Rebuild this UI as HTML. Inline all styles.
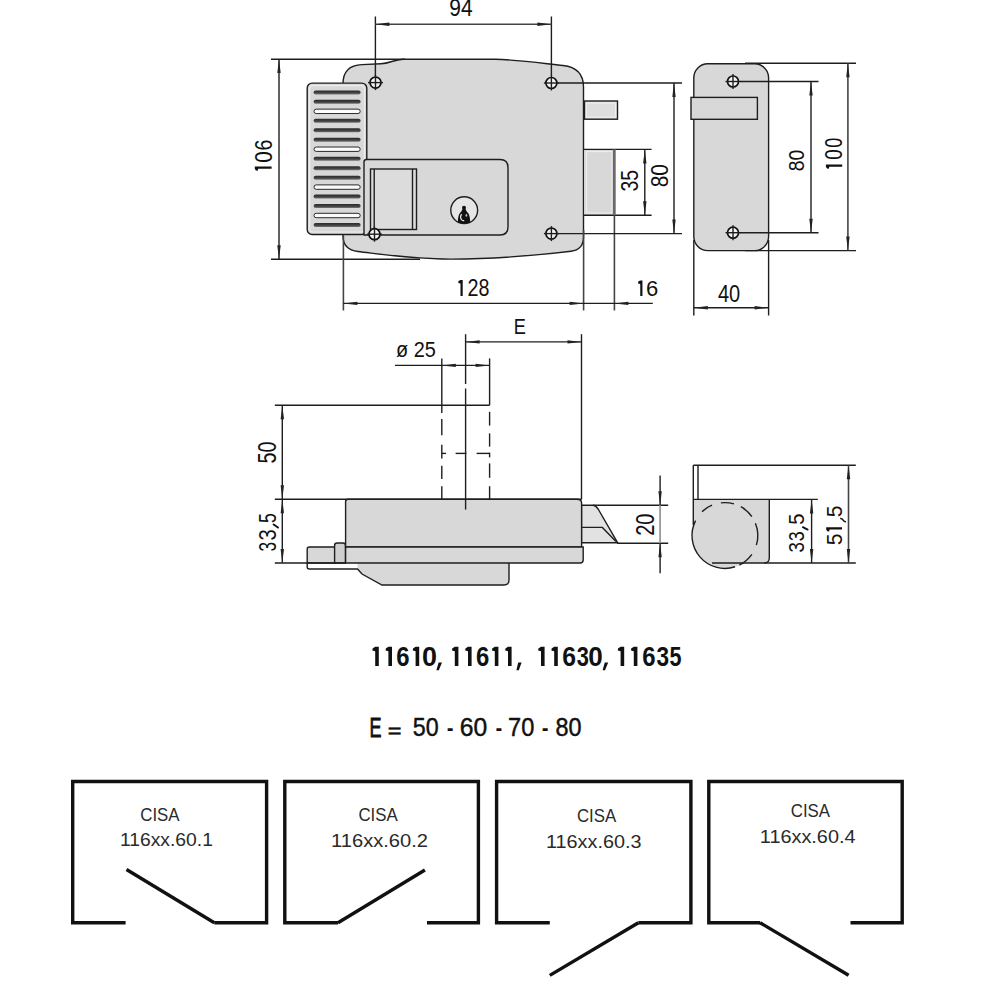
<!DOCTYPE html>
<html><head><meta charset="utf-8"><style>
html,body{margin:0;padding:0;background:#fff;}
svg{display:block;}
text{font-family:"Liberation Sans",sans-serif;}
.k{stroke:#1e1e1e;stroke-width:1.4;}
line.k{fill:none;}
.g{stroke:#444;stroke-width:1.6;fill:none;}
.t{stroke:#111;stroke-width:3.4;fill:none;stroke-linejoin:miter;}
</style></head><body>
<svg width="1000" height="1000" viewBox="0 0 1000 1000">
<defs><linearGradient id="sg" x1="0" y1="0" x2="0" y2="1"><stop offset="0" stop-color="#2a2a2a"/><stop offset="0.6" stop-color="#444"/><stop offset="1" stop-color="#777"/></linearGradient></defs>
<rect width="1000" height="1000" fill="#fff"/>
<path class="k" fill="#d8d8d8" d="M343,236 L343,84 C343,72 349,65 362,64.6 L381,63.8 C390,63.3 394,59.5 403,59.2 L495,59.2 C520,60 540,63 563,65.5 C577,67 583.5,75 583.5,87 L583.5,237 C583.5,245.5 579,250.3 571,251.2 C530,256 490,259.2 450,259.1 C410,258.8 380,254 358,251.5 C349,250.5 343,246 343,236 Z"/>
<rect class="k" x="307.2" y="83.1" width="59.6" height="151.4" rx="5" fill="#d8d8d8"/>
<rect x="309.6" y="85.6" width="54.8" height="146.4" rx="3.5" fill="none" stroke="#ececec" stroke-width="1.2"/>
<rect x="313.6" y="90.40" width="47" height="4.0" rx="2.0" fill="url(#sg)"/>
<rect x="313.6" y="99.87" width="47" height="4.0" rx="2.0" fill="url(#sg)"/>
<rect x="314" y="109.14" width="46.2" height="4.4" rx="2.2" fill="#fbfbfb" stroke="#2a2a2a" stroke-width="1"/>
<rect x="313.6" y="118.81" width="47" height="4.0" rx="2.0" fill="url(#sg)"/>
<rect x="313.6" y="128.28" width="47" height="4.0" rx="2.0" fill="url(#sg)"/>
<rect x="313.6" y="137.75" width="47" height="4.0" rx="2.0" fill="url(#sg)"/>
<rect x="314" y="147.02" width="46.2" height="4.4" rx="2.2" fill="#fbfbfb" stroke="#2a2a2a" stroke-width="1"/>
<rect x="313.6" y="156.69" width="47" height="4.0" rx="2.0" fill="url(#sg)"/>
<rect x="313.6" y="166.16" width="47" height="4.0" rx="2.0" fill="url(#sg)"/>
<rect x="313.6" y="175.63" width="47" height="4.0" rx="2.0" fill="url(#sg)"/>
<rect x="314" y="184.90" width="46.2" height="4.4" rx="2.2" fill="#fbfbfb" stroke="#2a2a2a" stroke-width="1"/>
<rect x="313.6" y="194.57" width="47" height="4.0" rx="2.0" fill="url(#sg)"/>
<rect x="313.6" y="204.04" width="47" height="4.0" rx="2.0" fill="url(#sg)"/>
<rect x="314" y="213.31" width="46.2" height="4.4" rx="2.2" fill="#fbfbfb" stroke="#2a2a2a" stroke-width="1"/>
<rect x="313.6" y="222.98" width="47" height="4.0" rx="2.0" fill="url(#sg)"/>
<path class="k" fill="#d8d8d8" d="M364,235 L364,162 Q364,159.5 366.5,159.5 L500,159.5 Q508,159.5 508,167.5 L508,227 Q508,235 500,235 Z"/>
<rect class="k" x="370.5" y="169" width="46" height="60.5" fill="#dcdcdc"/>
<line class="k" x1="374.2" y1="169" x2="374.2" y2="229.5"/>
<line class="k" x1="412.5" y1="169" x2="412.5" y2="229.5"/>
<circle cx="464.2" cy="210.2" r="13.4" fill="#e6e6e6" class="k"/>
<circle cx="464" cy="207.8" r="2.0" fill="#111"/>
<path fill="#111" d="M462.5,209 L465.5,209 Q466.3,211.4 467.6,212.4 Q470.2,215 470.2,222.6 Q464,224.6 457.8,222.6 Q457.8,215 460.4,212.4 Q461.7,211.4 462.5,209 Z"/>
<path fill="none" stroke="#e8e8e8" stroke-width="1.2" d="M461.6,214.2 Q459.6,217 461.4,219.6 Q462.6,220.8 464.2,220.6"/>
<ellipse cx="466.4" cy="215.4" rx="0.9" ry="1.4" fill="#bbb"/>
<rect class="k" x="584.5" y="101" width="33" height="18.2" fill="#dedede"/>
<rect x="586.4" y="103" width="29.2" height="14.2" fill="none" stroke="#f0f0f0" stroke-width="1.1"/>
<rect x="584.5" y="149.4" width="30" height="65.8" fill="#d8d8d8"/>
<line class="k" x1="583.5" y1="149.4" x2="651.6" y2="149.4"/>
<line class="k" x1="583.5" y1="215.2" x2="651.6" y2="215.2"/>
<rect x="586.5" y="151.6" width="25.5" height="61.4" fill="none" stroke="#ececec" stroke-width="1.2"/>
<line x1="614.3" y1="149.4" x2="614.3" y2="215.2" stroke="#6a6a6a" stroke-width="2.8"/>
<line class="g" x1="614.4" y1="215.2" x2="614.4" y2="310.5"/>
<circle cx="375.5" cy="82.6" r="5.5" fill="#f4f4f4" stroke="#111" stroke-width="1.7"/>
<line class="k" x1="368.0" y1="82.6" x2="383.0" y2="82.6"/>
<line class="k" x1="375.5" y1="75.1" x2="375.5" y2="90.1"/>
<circle cx="551.4" cy="83.0" r="5.5" fill="#f4f4f4" stroke="#111" stroke-width="1.7"/>
<line class="k" x1="543.9" y1="83.0" x2="558.9" y2="83.0"/>
<line class="k" x1="551.4" y1="75.5" x2="551.4" y2="90.5"/>
<circle cx="374.5" cy="234.2" r="5.5" fill="#f4f4f4" stroke="#111" stroke-width="1.7"/>
<line class="k" x1="367.0" y1="234.2" x2="382.0" y2="234.2"/>
<line class="k" x1="374.5" y1="226.7" x2="374.5" y2="241.7"/>
<circle cx="551.4" cy="233.6" r="5.5" fill="#f4f4f4" stroke="#111" stroke-width="1.7"/>
<line class="k" x1="543.9" y1="233.6" x2="558.9" y2="233.6"/>
<line class="k" x1="551.4" y1="226.1" x2="551.4" y2="241.1"/>
<line class="k" x1="375.4" y1="16.5" x2="375.4" y2="76"/>
<line class="k" x1="551.4" y1="16.5" x2="551.4" y2="76"/>
<line class="g" x1="375.4" y1="24.2" x2="551.4" y2="24.2"/>
<polygon fill="#222" points="375.4,24.2 389.4,22.5 389.4,25.9"/>
<polygon fill="#222" points="551.4,24.2 537.4,22.5 537.4,25.9"/>
<text transform="matrix(0.10483 0 0 0.12183 449.357 16.056)" font-size="200" font-weight="normal" fill="#111">94</text>
<line class="k" x1="271" y1="59.2" x2="405" y2="59.2"/>
<line class="k" x1="271" y1="259.2" x2="420" y2="259.2"/>
<line class="k" x1="279" y1="59" x2="279" y2="259.2"/>
<polygon fill="#222" points="279.0,59.0 277.3,73.0 280.7,73.0"/>
<polygon fill="#222" points="279.0,259.2 277.3,245.2 280.7,245.2"/>
<text transform="matrix(0 -0.09785 0.12394 0 271.752 150.478)" font-size="200" font-weight="normal" fill="#111">6</text>
<text transform="matrix(0 -0.10313 0.12254 0 271.755 162.725)" font-size="200" font-weight="normal" fill="#111">0</text>
<polygon fill="#111" points="254.80,168.70 254.80,166.50 271.60,166.50 271.60,168.70 258.20,168.70 257.70,170.70 255.90,170.50"/>
<line class="k" x1="558" y1="83.0" x2="682" y2="83.0"/>
<line class="k" x1="558" y1="233.6" x2="682" y2="233.6"/>
<line class="k" x1="674" y1="83.0" x2="674" y2="233.6"/>
<polygon fill="#222" points="674.0,83.0 672.3,97.0 675.7,97.0"/>
<polygon fill="#222" points="674.0,233.6 672.3,219.6 675.7,219.6"/>
<text transform="matrix(0 -0.10485 0.11831 0 667.763 187.344)" font-size="200" font-weight="normal" fill="#111">80</text>
<line class="k" x1="644.8" y1="149.4" x2="644.8" y2="215.2"/>
<polygon fill="#222" points="644.8,149.4 643.1,163.4 646.5,163.4"/>
<polygon fill="#222" points="644.8,215.2 643.1,201.2 646.5,201.2"/>
<text transform="matrix(0 -0.09709 0.11831 0 638.163 191.577)" font-size="200" font-weight="normal" fill="#111">35</text>
<line class="g" x1="343.4" y1="236" x2="343.4" y2="310.5"/>
<line class="g" x1="583.6" y1="230" x2="583.6" y2="310.5"/>
<line class="k" x1="343.4" y1="303.4" x2="652.8" y2="303.4"/>
<polygon fill="#222" points="343.4,303.4 357.4,301.7 357.4,305.1"/>
<polygon fill="#222" points="583.6,303.4 569.6,301.7 569.6,305.1"/>
<polygon fill="#222" points="614.4,303.4 628.4,301.7 628.4,305.1"/>
<polygon fill="#111" points="460.50,279.90 462.70,279.90 462.70,296.10 460.50,296.10 460.50,283.50 458.30,282.90 458.50,281.10"/>
<text transform="matrix(0.09890 0 0 0.11679 467.511 296.100)" font-size="200" font-weight="normal" fill="#111">2</text>
<text transform="matrix(0.09840 0 0 0.11620 478.614 296.018)" font-size="200" font-weight="normal" fill="#111">8</text>
<polygon fill="#111" points="640.25,280.40 642.45,280.40 642.45,296.10 640.25,296.10 640.25,284.00 638.05,283.40 638.25,281.60"/>
<text transform="matrix(0.11022 0 0 0.11268 645.898 296.025)" font-size="200" font-weight="normal" fill="#111">6</text>
<rect class="k" x="693.8" y="63.8" width="74.8" height="186.8" rx="14" fill="#d8d8d8"/>
<rect class="k" x="691" y="97.4" width="66.4" height="21.9" fill="#d8d8d8"/>
<circle cx="733" cy="81.5" r="5.5" fill="#f4f4f4" stroke="#111" stroke-width="1.7"/>
<line class="k" x1="725.5" y1="81.5" x2="740.5" y2="81.5"/>
<line class="k" x1="733" y1="74.0" x2="733" y2="89.0"/>
<circle cx="733" cy="232.7" r="5.5" fill="#f4f4f4" stroke="#111" stroke-width="1.7"/>
<line class="k" x1="725.5" y1="232.7" x2="740.5" y2="232.7"/>
<line class="k" x1="733" y1="225.2" x2="733" y2="240.2"/>
<line class="k" x1="740" y1="81.5" x2="818.5" y2="81.5"/>
<line class="k" x1="740" y1="232.7" x2="818.5" y2="232.7"/>
<line class="k" x1="811" y1="81.5" x2="811" y2="232.7"/>
<polygon fill="#222" points="811.0,81.5 809.3,95.5 812.7,95.5"/>
<polygon fill="#222" points="811.0,232.7 809.3,218.7 812.7,218.7"/>
<text transform="matrix(0 -0.09709 0.11268 0 804.175 171.274)" font-size="200" font-weight="normal" fill="#111">80</text>
<line class="k" x1="745" y1="63.2" x2="856" y2="63.2"/>
<line class="k" x1="745" y1="250.6" x2="856" y2="250.6"/>
<line class="g" x1="847.9" y1="63.2" x2="847.9" y2="250.6"/>
<polygon fill="#222" points="847.9,63.2 846.2,77.2 849.6,77.2"/>
<polygon fill="#222" points="847.9,250.6 846.2,236.6 849.6,236.6"/>
<text transform="matrix(0 -0.09063 0.11761 0 842.165 147.625)" font-size="200" font-weight="normal" fill="#111">0</text>
<text transform="matrix(0 -0.09479 0.11761 0 842.165 159.858)" font-size="200" font-weight="normal" fill="#111">0</text>
<polygon fill="#111" points="825.90,166.70 825.90,164.50 842.20,164.50 842.20,166.70 829.30,166.70 828.80,168.70 827.00,168.50"/>
<line class="k" x1="693.8" y1="240" x2="693.8" y2="315.5"/>
<line class="k" x1="768.6" y1="240" x2="768.6" y2="315.5"/>
<line class="k" x1="693.8" y1="307.8" x2="768.6" y2="307.8"/>
<polygon fill="#222" points="693.8,307.8 707.8,306.1 707.8,309.5"/>
<polygon fill="#222" points="768.6,307.8 754.6,306.1 754.6,309.5"/>
<text transform="matrix(0.10000 0 0 0.11725 718.000 302.165)" font-size="200" font-weight="normal" fill="#111">40</text>
<path fill="#d8d8d8" d="M357.5,563 L357.5,569 L362,574 L382,585 L504,585 Q509,585 509,580 L509,563 Z"/>
<path class="k" fill="none" d="M307.2,563 L307.2,567 Q307.2,569 309.5,569 L357.5,569 L362,574 L382,585 L504,585 Q509,585 509,580 L509,563"/>
<path class="k" fill="#d8d8d8" d="M307.2,563 L307.2,549 Q307.2,547 309.5,547 L335,547 L335,563 Z"/>
<path class="k" fill="#cfcfcf" d="M334.6,563 L334.6,545.5 Q334.6,543 337,543 L343,543 Q345.5,543 345.5,545.5 L345.5,563 Z"/>
<path class="k" fill="#d8d8d8" d="M345.6,547 L345.6,501.5 Q345.6,499.3 348,499.3 L577,499.3 Q581.6,499.3 581.6,503 L581.6,547 Z"/>
<path class="k" fill="#d8d8d8" d="M345.6,547 L583.2,547 L583.2,560 Q583.2,563 580.2,563 L345.6,563 Z"/>
<path class="k" fill="#e2e2e2" d="M581.7,505.3 L593.4,505.3 Q596.5,506 599,510.5 L617.7,542.8 L581.7,542.8 Z"/>
<path class="k" fill="none" d="M581.7,527.4 L602.4,527.4 L616,541.5"/>
<line class="k" x1="593" y1="505.3" x2="668.2" y2="505.3"/>
<line class="k" x1="617" y1="543.2" x2="668.2" y2="543.2"/>
<line class="k" x1="660.1" y1="475.4" x2="660.1" y2="505.3"/>
<line x1="660.1" y1="505.3" x2="660.1" y2="543.2" stroke="#9a9a9a" stroke-width="1.8"/>
<line class="k" x1="660.1" y1="543.2" x2="660.1" y2="573.3"/>
<polygon fill="#222" points="660.1,505.3 658.4,491.3 661.8,491.3"/>
<polygon fill="#222" points="660.1,543.2 658.4,557.2 661.8,557.2"/>
<text transform="matrix(0 -0.10049 0.12535 0 654.249 535.805)" font-size="200" font-weight="normal" fill="#111">20</text>
<line class="k" x1="465.6" y1="334.2" x2="465.6" y2="384"/>
<line class="k" x1="465.6" y1="388.5" x2="465.6" y2="509.6"/>
<line class="k" x1="581.5" y1="334.2" x2="581.5" y2="499.3"/>
<line class="k" x1="465.6" y1="341.9" x2="581.5" y2="341.9"/>
<polygon fill="#222" points="465.6,341.9 479.6,340.2 479.6,343.6"/>
<polygon fill="#222" points="581.5,341.9 567.5,340.2 567.5,343.6"/>
<text transform="matrix(0.09083 0 0 0.11159 513.847 334.200)" font-size="200" font-weight="normal" fill="#111">E</text>
<line class="k" x1="395" y1="365.4" x2="489.6" y2="365.4"/>
<polygon fill="#222" points="441.8,365.4 455.8,363.7 455.8,367.1"/>
<polygon fill="#222" points="489.6,365.4 475.6,363.7 475.6,367.1"/>
<text transform="matrix(0.09948 0 0 0.10845 396.003 357.083)" font-size="200" font-weight="normal" fill="#111">ø 25</text>
<line class="k" x1="441.8" y1="358.4" x2="441.8" y2="413"/>
<line class="k" x1="441.8" y1="419" x2="441.8" y2="435.2"/>
<line class="k" x1="441.8" y1="444.8" x2="441.8" y2="458.6"/>
<line class="k" x1="441.8" y1="465.8" x2="441.8" y2="479"/>
<line class="k" x1="441.8" y1="486.2" x2="441.8" y2="499"/>
<line class="k" x1="489.6" y1="358.4" x2="489.6" y2="405.2"/>
<line class="k" x1="489.6" y1="411.8" x2="489.6" y2="425.6"/>
<line class="k" x1="489.6" y1="433.4" x2="489.6" y2="446.6"/>
<line class="k" x1="489.6" y1="452.6" x2="489.6" y2="457.4"/>
<line class="k" x1="489.6" y1="463.4" x2="489.6" y2="477.8"/>
<line class="k" x1="489.6" y1="486.2" x2="489.6" y2="499"/>
<line class="k" x1="441.8" y1="453.4" x2="446" y2="453.4"/>
<line class="k" x1="455.6" y1="453.4" x2="466.4" y2="453.4"/>
<line class="k" x1="476.6" y1="453.4" x2="489.6" y2="453.4"/>
<line class="k" x1="274.8" y1="405.2" x2="489.6" y2="405.2"/>
<line class="k" x1="274.8" y1="499.3" x2="581.6" y2="499.3"/>
<line class="k" x1="274.8" y1="563" x2="346" y2="563"/>
<line class="k" x1="282.3" y1="405.2" x2="282.3" y2="562.8"/>
<polygon fill="#222" points="282.3,405.2 280.6,419.2 284.0,419.2"/>
<polygon fill="#222" points="282.3,499.3 280.6,485.3 284.0,485.3"/>
<polygon fill="#222" points="282.3,499.3 280.6,513.3 284.0,513.3"/>
<polygon fill="#222" points="282.3,563.0 280.6,549.0 284.0,549.0"/>
<text transform="matrix(0 -0.09903 0.12606 0 276.148 463.392)" font-size="200" font-weight="normal" fill="#111">50</text>
<text transform="matrix(0 -0.08842 0.12357 0 275.853 523.107)" font-size="200" font-weight="normal" fill="#111">5</text>
<line x1="273.6" y1="524.4" x2="278.0" y2="527.6" stroke="#111" stroke-width="1.9" stroke-linecap="round"/>
<text transform="matrix(0 -0.10105 0.12324 0 275.854 540.508)" font-size="200" font-weight="normal" fill="#111">3</text>
<text transform="matrix(0 -0.08632 0.12324 0 275.854 551.491)" font-size="200" font-weight="normal" fill="#111">3</text>
<path fill="#d8d8d8" d="M693.3,499.4 L769.3,499.4 L769.3,558 Q769.3,563 764.3,563 L725,563 L725,535.5 L693.3,535.5 Z"/>
<circle cx="724.9" cy="535.5" r="32.9" fill="#d8d8d8"/>
<path class="k" fill="none" d="M735.07,566.79 A32.9,32.9 0 0 1 695.59,520.56"/>
<path class="k" fill="none" d="M751.85,554.37 A32.9,32.9 0 0 1 739.32,565.07"/>
<path class="k" fill="none" d="M755.40,523.18 A32.9,32.9 0 0 1 756.36,545.12"/>
<path class="k" fill="none" d="M740.85,506.73 A32.9,32.9 0 0 1 751.85,516.63"/>
<path class="k" fill="none" d="M720.89,502.85 A32.9,32.9 0 0 1 733.97,503.87"/>
<path class="k" fill="none" d="M702.05,511.83 A32.9,32.9 0 0 1 712.04,505.22"/>
<path class="k" fill="none" d="M769.3,499.4 L769.3,558 Q769.3,563 764.3,563"/>
<line class="k" x1="693.3" y1="465.2" x2="855.8" y2="465.2"/>
<line class="k" x1="693.3" y1="465.2" x2="693.3" y2="525"/>
<line class="k" x1="698" y1="465.2" x2="698" y2="499.4"/>
<line class="k" x1="693.3" y1="499.4" x2="817.8" y2="499.4"/>
<line class="k" x1="712" y1="563" x2="855.8" y2="563"/>
<line class="k" x1="811.6" y1="499.4" x2="811.6" y2="563"/>
<polygon fill="#222" points="811.6,499.4 809.9,513.4 813.3,513.4"/>
<polygon fill="#222" points="811.6,563.0 809.9,549.0 813.3,549.0"/>
<line class="g" x1="848.5" y1="465.2" x2="848.5" y2="563"/>
<polygon fill="#222" points="848.5,465.2 846.8,479.2 850.2,479.2"/>
<polygon fill="#222" points="848.5,563.0 846.8,549.0 850.2,549.0"/>
<text transform="matrix(0 -0.10105 0.11143 0 803.977 524.808)" font-size="200" font-weight="normal" fill="#111">5</text>
<line x1="802.9" y1="527.2" x2="807.6" y2="529.6" stroke="#111" stroke-width="1.9" stroke-linecap="round"/>
<text transform="matrix(0 -0.08947 0.10986 0 803.980 541.316)" font-size="200" font-weight="normal" fill="#111">3</text>
<text transform="matrix(0 -0.09368 0.10986 0 803.980 552.549)" font-size="200" font-weight="normal" fill="#111">3</text>
<text transform="matrix(0 -0.10526 0.11429 0 841.771 545.342)" font-size="200" font-weight="normal" fill="#111">5</text>
<polygon fill="#111" points="826.20,529.50 826.20,527.30 842.00,527.30 842.00,529.50 829.60,529.50 829.10,531.50 827.30,531.30"/>
<text transform="matrix(0 -0.10526 0.11429 0 841.771 517.342)" font-size="200" font-weight="normal" fill="#111">5</text>
<path fill="none" stroke="#111" stroke-width="1.5" d="M840.2,518.6 Q842,518.4 843,520 Q844,521.8 846,521.8"/>
<polygon fill="#111" points="375.2,646.8 378.8,646.8 378.8,666.0 375.2,666.0 375.2,651.2 372.4,650.4 372.6,648.4"/>
<polygon fill="#111" points="388.4,646.8 392.0,646.8 392.0,666.0 388.4,666.0 388.4,651.2 385.6,650.4 385.8,648.4"/>
<text transform="matrix(0.11959 0 0 0.13521 396.363 665.730)" font-size="200" font-weight="bold" fill="#111">6</text>
<polygon fill="#111" points="415.6,646.8 419.20000000000005,646.8 419.20000000000005,666.0 415.6,666.0 415.6,651.2 412.8,650.4 413.0,648.4"/>
<text transform="matrix(0.13474 0 0 0.13521 422.122 665.730)" font-size="200" font-weight="bold" fill="#111">0</text>
<polygon fill="#111" points="438.6,662.6 442.0,662.6 438.8,670.2 436.4,670.2"/>
<polygon fill="#111" points="454.8,646.8 458.40000000000003,646.8 458.40000000000003,666.0 454.8,666.0 454.8,651.2 452.0,650.4 452.2,648.4"/>
<polygon fill="#111" points="468.0,646.8 471.6,646.8 471.6,666.0 468.0,666.0 468.0,651.2 465.2,650.4 465.4,648.4"/>
<text transform="matrix(0.11959 0 0 0.13521 475.963 665.730)" font-size="200" font-weight="bold" fill="#111">6</text>
<polygon fill="#111" points="494.8,646.8 498.40000000000003,646.8 498.40000000000003,666.0 494.8,666.0 494.8,651.2 492.0,650.4 492.2,648.4"/>
<polygon fill="#111" points="508.0,646.8 511.6,646.8 511.6,666.0 508.0,666.0 508.0,651.2 505.2,650.4 505.4,648.4"/>
<polygon fill="#111" points="518.2,662.6 521.6,662.6 518.8,670.2 516.4,670.2"/>
<polygon fill="#111" points="541.0,646.8 544.6,646.8 544.6,666.0 541.0,666.0 541.0,651.2 538.2,650.4 538.4,648.4"/>
<polygon fill="#111" points="554.2,646.8 557.8000000000001,646.8 557.8000000000001,666.0 554.2,666.0 554.2,651.2 551.4,650.4 551.6,648.4"/>
<text transform="matrix(0.12371 0 0 0.13521 562.134 665.730)" font-size="200" font-weight="bold" fill="#111">6</text>
<text transform="matrix(0.10909 0 0 0.13521 576.855 665.730)" font-size="200" font-weight="bold" fill="#111">3</text>
<text transform="matrix(0.13053 0 0 0.13521 588.356 665.730)" font-size="200" font-weight="bold" fill="#111">0</text>
<polygon fill="#111" points="604.8,662.6 608.2,662.6 605.0,670.2 602.6,670.2"/>
<polygon fill="#111" points="620.6,646.8 624.2,646.8 624.2,666.0 620.6,666.0 620.6,651.2 617.8,650.4 618.0,648.4"/>
<polygon fill="#111" points="633.8,646.8 637.4,646.8 637.4,666.0 633.8,666.0 633.8,651.2 631.0,650.4 631.2,648.4"/>
<text transform="matrix(0.11959 0 0 0.13521 642.163 665.730)" font-size="200" font-weight="bold" fill="#111">6</text>
<text transform="matrix(0.11313 0 0 0.13521 656.434 665.730)" font-size="200" font-weight="bold" fill="#111">3</text>
<text transform="matrix(0.10800 0 0 0.13714 669.552 665.726)" font-size="200" font-weight="bold" fill="#111">5</text>
<text transform="matrix(0.08991 0 0 0.13768 369.561 736.500)" font-size="200" font-weight="normal" fill="#111" stroke="#111" stroke-width="6.15">E</text>
<text transform="matrix(0.11753 0 0 0.09846 387.625 738.249)" font-size="200" font-weight="normal" fill="#111" stroke="#111" stroke-width="5.56">=</text>
<text transform="matrix(0.11643 0 0 0.13169 412.869 736.037)" font-size="200" font-weight="normal" fill="#111" stroke="#111" stroke-width="3.63">50</text>
<text transform="matrix(0.12341 0 0 0.13169 459.666 736.037)" font-size="200" font-weight="normal" fill="#111" stroke="#111" stroke-width="3.53">60</text>
<text transform="matrix(0.11805 0 0 0.13169 508.120 736.037)" font-size="200" font-weight="normal" fill="#111" stroke="#111" stroke-width="3.60">70</text>
<text transform="matrix(0.11699 0 0 0.13169 555.547 736.037)" font-size="200" font-weight="normal" fill="#111" stroke="#111" stroke-width="3.62">80</text>
<text transform="matrix(0.10204 0 0 0.17500 446.682 738.875)" font-size="200" font-weight="normal" fill="#111">-</text>
<text transform="matrix(0.10204 0 0 0.17500 495.482 738.875)" font-size="200" font-weight="normal" fill="#111">-</text>
<text transform="matrix(0.10204 0 0 0.17500 541.682 738.875)" font-size="200" font-weight="normal" fill="#111">-</text>
<path class="t" d="M125.6,922.7 L72.7,922.7 L72.7,781.5 L266.6,781.5 L266.6,922.7 L214.3,922.7"/>
<path class="t" d="M126.5,869.5 L214.3,922.7"/>
<path class="t" d="M338,922.7 L284.8,922.7 L284.8,781.5 L478.4,781.5 L478.4,922.7 L427,922.7"/>
<path class="t" d="M338,922.7 L424.9,870"/>
<path class="t" d="M549.8,922.7 L496.6,922.7 L496.6,781.5 L690.9,781.5 L690.9,922.7 L638.4,922.7"/>
<path class="t" d="M549.8,975.4 L638.4,922.7"/>
<path class="t" d="M760,922.7 L708.8,922.7 L708.8,781.5 L902.2,781.5 L902.2,922.7 L850.5,922.7"/>
<path class="t" d="M760,922.7 L848.6,975.2"/>
<text transform="matrix(0.08421 0 0 0.09296 140.258 820.614)" font-size="200" font-weight="normal" fill="#2a2a2a">CISA</text>
<text transform="matrix(0.09649 0 0 0.09296 119.953 846.414)" font-size="200" font-weight="normal" fill="#2a2a2a">116xx.60.1</text>
<text transform="matrix(0.08421 0 0 0.09296 358.458 821.414)" font-size="200" font-weight="normal" fill="#2a2a2a">CISA</text>
<text transform="matrix(0.10064 0 0 0.09296 331.090 847.214)" font-size="200" font-weight="normal" fill="#2a2a2a">116xx.60.2</text>
<text transform="matrix(0.08421 0 0 0.09296 576.958 821.814)" font-size="200" font-weight="normal" fill="#2a2a2a">CISA</text>
<text transform="matrix(0.09915 0 0 0.09296 546.013 847.614)" font-size="200" font-weight="normal" fill="#2a2a2a">116xx.60.3</text>
<text transform="matrix(0.08421 0 0 0.09296 790.758 817.414)" font-size="200" font-weight="normal" fill="#2a2a2a">CISA</text>
<text transform="matrix(0.09936 0 0 0.09296 759.810 843.214)" font-size="200" font-weight="normal" fill="#2a2a2a">116xx.60.4</text>
</svg>
</body></html>
